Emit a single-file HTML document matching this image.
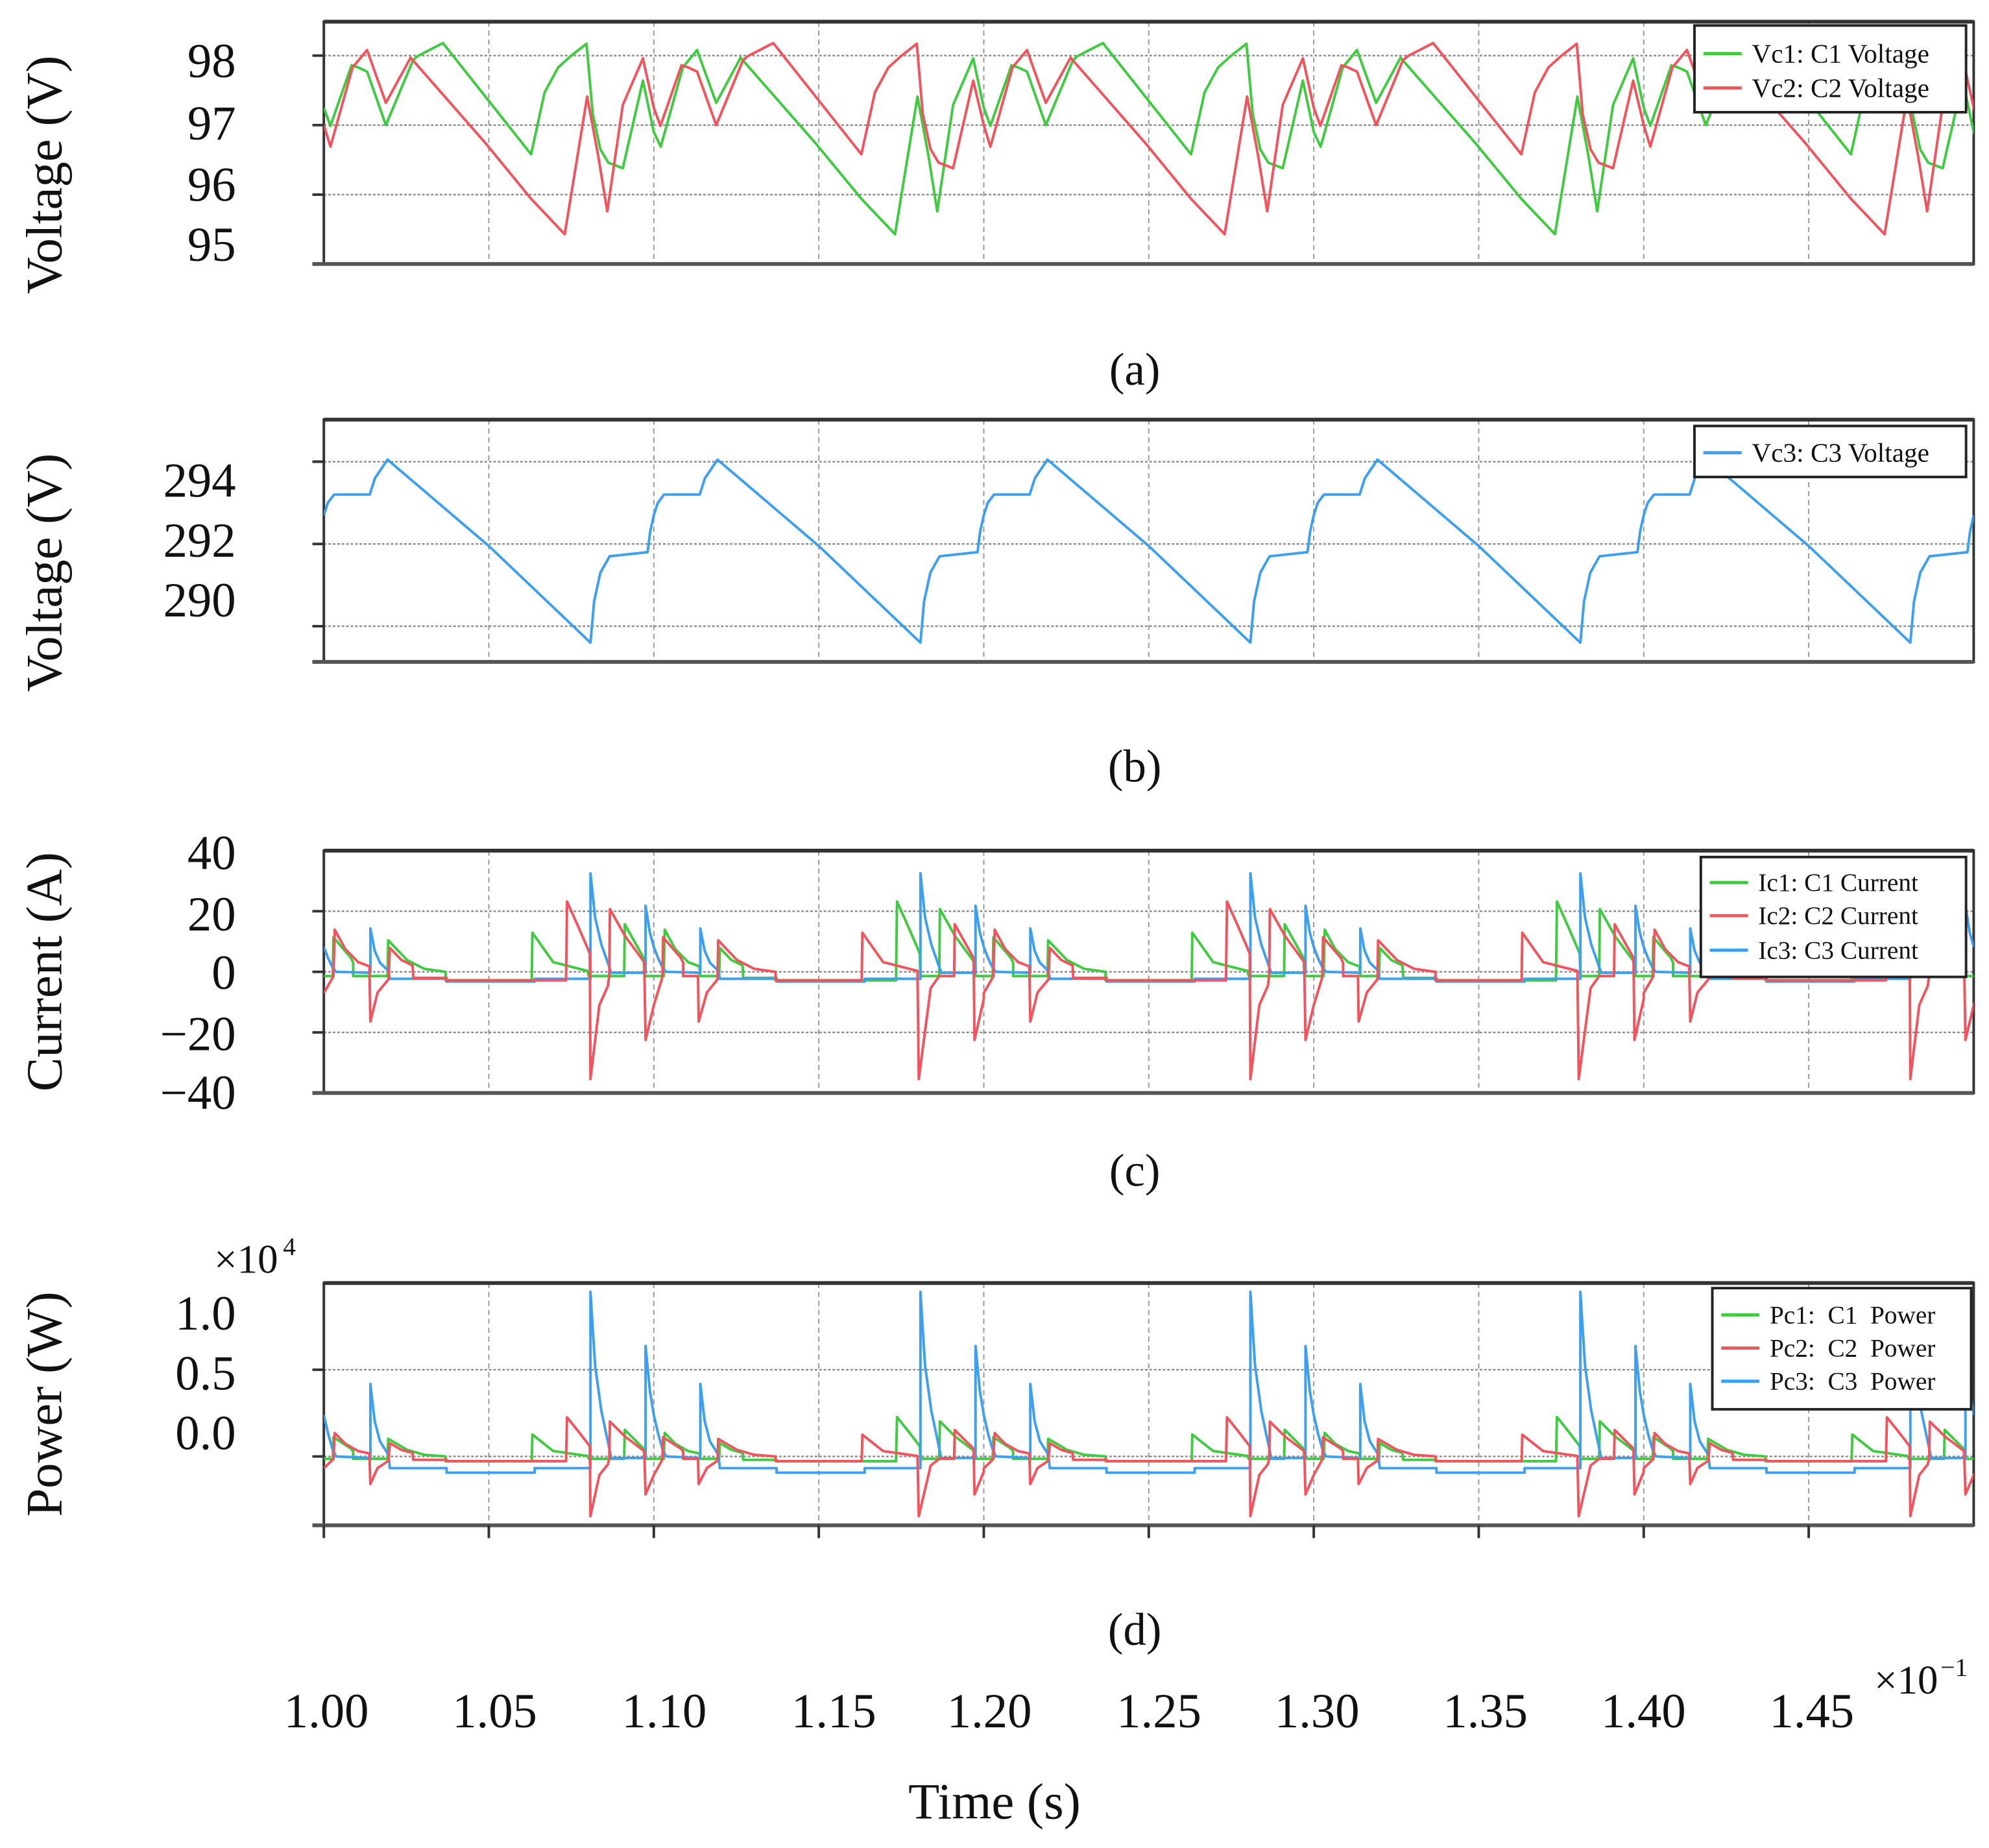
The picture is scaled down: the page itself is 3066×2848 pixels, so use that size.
<!DOCTYPE html>
<html><head><meta charset="utf-8"><style>
html,body{margin:0;padding:0;background:#fff;}
svg{display:block;}
text{font-family:"Liberation Serif",serif;fill:#111;}
</style></head><body>
<svg id="fig" width="3066" height="2848" viewBox="0 0 1560 1449" preserveAspectRatio="none" xmlns="http://www.w3.org/2000/svg">
<defs>
<clipPath id="clipA"><rect x="254" y="17" width="1294" height="190"/></clipPath>
<clipPath id="clipB"><rect x="254" y="329" width="1294" height="190"/></clipPath>
<clipPath id="clipC"><rect x="254" y="667" width="1294" height="190"/></clipPath>
<clipPath id="clipD"><rect x="254" y="1006" width="1294" height="190"/></clipPath>
</defs>
<g id="layer"></g>
</svg>
<script>
// ---- data (time offsets in ms within a cycle) ----
const timeTicks = [1.00,1.05,1.10,1.15,1.20,1.25,1.30,1.35,1.40,1.45];
const timeTickLabels = ["1.00","1.05","1.10","1.15","1.20","1.25","1.30","1.35","1.40","1.45"];
const cycleStarts20 = [100,120,140];
const cycleStarts10 = [100,110,120,130,140];

// (a) capacitor voltages, 20 ms cycle
const vc1T = [0,0.2,0.84,1.04,1.31,1.88,2.70,2.83,3.61,6.28,6.69,7.10,7.50,7.96,8.15,8.38,8.62,9.06,9.67,10.0,10.21,10.88,11.31,11.89,12.63,14.90,16.29,17.31,17.99,18.32,18.59,19.07,19.68,20];
const vc1V = [97.25,96.99,97.86,97.83,97.77,97.0,97.93,97.99,98.18,96.58,97.47,97.83,98.0,98.17,97.16,96.65,96.46,96.38,97.64,96.9,96.69,97.83,98.08,97.32,97.97,96.74,95.94,95.43,97.41,96.57,95.76,97.29,97.96,97.25];
const vc2T = [0,0.2,0.87,1.31,1.88,2.63,4.90,6.28,7.30,7.98,8.31,8.59,9.06,9.67,10.0,10.2,10.84,11.04,11.31,11.89,12.70,12.84,13.62,16.29,16.70,17.11,17.51,17.97,18.15,18.39,18.63,19.07,19.68,20];
const vc2V = [97.0,96.69,97.83,98.08,97.32,97.97,96.74,95.94,95.43,97.41,96.57,95.76,97.29,97.96,97.25,96.99,97.86,97.83,97.77,97.0,97.93,97.99,98.18,96.58,97.47,97.83,98.0,98.17,97.16,96.65,96.46,96.38,97.64,97.0];

// (b) C3 voltage, 10 ms cycle
const vc3T = [0,0.12,0.31,1.39,1.55,1.93,5.0,8.08,8.19,8.38,8.66,9.81,9.89,10];
const vc3V = [292.7,293.0,293.2,293.2,293.6,294.05,291.95,289.6,290.6,291.3,291.7,291.8,292.3,292.7];

// (c) currents
const ic1T = [0,0.27,0.29,0.82,0.89,0.89,1.93,1.95,2.52,3.04,3.69,3.69,6.3,6.32,6.95,7.99,8.03,9.1,9.12,9.69,9.72,10.0,10.3,10.33,10.65,11.04,11.38,11.41,11.98,12.0,12.35,12.69,12.71,13.72,13.72,17.34,17.37,17.69,17.95,18.06,18.08,18.65,18.67,19.13,19.71,19.75,20];
const ic1V = [-1.4,-1.4,11.4,4.6,3,-1.4,-1.4,10.4,3.9,1,0,-2.8,-2.8,12.9,3.2,0.3,-1.4,-1.4,15.7,4.6,-1.4,-1.4,-1.4,13.9,7.5,3.2,1.8,-1.4,-1.4,7.9,3.9,2.1,-2.0,-2.0,-2.8,-2.8,23.2,15.4,8.9,6,-1.4,-1.4,20.7,11.8,3.2,-1.4,-1.4];
const ic2T = [0,0.29,0.33,0.65,1.04,1.38,1.41,1.63,1.96,2.0,2.35,2.69,2.71,3.72,3.72,7.34,7.37,7.69,7.95,8.06,8.08,8.35,8.61,8.65,8.67,9.13,9.71,9.75,10.0,10.24,10.26,10.28,10.82,10.89,10.89,11.34,11.36,11.61,11.93,11.95,12.52,13.04,13.69,13.69,16.3,16.32,16.95,17.99,18.03,18.39,18.65,19.1,19.12,19.69,19.72,20];
const ic2V = [-7,-1.5,13.9,7.5,3.2,1.8,-16.4,-6.8,-2.5,7.9,3.9,2.1,-2.0,-2.0,-2.8,-2.8,23.2,15.4,8.9,6,-35.4,-11,-4.6,-1,20.7,11.8,3.2,-22.5,-11,-2.5,-1.5,11.4,4.6,3,-1.4,-1.4,-16.4,-6.8,-2.5,10.4,3.9,1,0,-2.8,-2.8,12.9,3.2,0.3,-35.4,-5.4,-1.4,-1.4,15.7,4.6,-22.5,-9];
const ic3T = [0,0.13,0.26,0.37,1.41,1.41,1.54,1.70,1.96,2.0,3.72,3.72,6.39,6.39,8.08,8.08,8.22,8.41,8.67,8.71,9.75,9.75,9.88,10];
const ic3V = [8.2,4.5,1.5,0,-0.3,14.3,7,3,0.3,-2.3,-2.3,-3.2,-3.2,-2.3,-2.3,32.5,18,9,1,-0.3,-0.3,21.8,13,8.2];

// (d) powers (W), same time bases as currents
const pc1V = [-137,-137,1117,451,294,-137,-137,1019,382,98,0,-274,-274,1264,314,29,-137,-137,1539,451,-137,-137,-137,1362,735,314,176,-137,-137,774,382,206,-196,-196,-274,-274,2274,1509,872,588,-137,-137,2029,1156,314,-137,-137];
const pc2V = [-680,-146,1350,730,310,175,-1590,-660,-243,768,380,204,-194,-194,-272,-272,2255,1500,865,583,-3440,-1070,-447,-97,2010,1147,310,-2190,-1070,-243,-146,1108,447,292,-136,-136,-1590,-660,-243,1010,380,97,0,-272,-272,1254,310,29,-3440,-525,-136,-136,1526,447,-2190,-875];
const pc3V = [2394,1314,438,0,-88,4176,2044,876,88,-672,-672,-934,-934,-672,-672,9490,5256,2628,292,-88,-88,6366,3796,2394];

const NS = "http://www.w3.org/2000/svg";
const layer = document.getElementById('layer');
function el(tag, attrs, parent){ const e=document.createElementNS(NS,tag); for(const k in attrs) e.setAttribute(k,attrs[k]); (parent||layer).appendChild(e); return e; }
function txt(s, attrs, parent){ const e=el('text',attrs,parent); e.textContent=s; return e; }

const X0=254, X1=1548;
function xOf(ms){ return X0 + (ms-100)/50*(X1-X0); }
function xOfTick(v){ return X0 + (v-1.00)/0.5*(X1-X0); }
function makeY(v0,y0,v1,y1){ return v => y0 + (v-v0)*(y1-y0)/(v1-v0); }

const GREEN="#3fcb3f", RED="#f2535c", BLUE="#3d9ff0";

function panel(name, top, clip, yf, yTicks, yLabels, yLabelPos, title){
  const g = el('g',{});
  
  
  const bottom = top+190;
  // vertical grid
  timeTicks.slice(1).forEach(t=>{
    const gl = el('line',{x1:xOfTick(t),x2:xOfTick(t),y1:top,y2:bottom,stroke:'#999','stroke-width':1,'stroke-dasharray':'4,3'},g);
    
    
  });
  // horizontal grid + ticks
  yTicks.forEach(v=>{
    const y=yf(v);
    const gl = el('line',{x1:X0,x2:X1,y1:y,y2:y,stroke:'#888','stroke-width':1.2,'stroke-dasharray':'2,1.5'},g);
    
    
    el('line',{x1:245,x2:X0,y1:y,y2:y,stroke:'#333','stroke-width':2},g);
  });
  yLabels.forEach((s,i)=>{
    const t = txt(s,{x:185,y:yLabelPos[i],'font-size':38,'text-anchor':'end','dominant-baseline':'central'},g);
    
    
  });
  const yt = txt(title,{x:0,y:0,'font-size':40,'text-anchor':'middle','dominant-baseline':'central',transform:`translate(35,${top+95+(title==='Voltage (V)'?25:0)}) rotate(-90)`},g);
  
  
  // frame
  el('rect',{x:X0,y:top,width:X1-X0,height:190,fill:'none',stroke:'#333','stroke-width':2},g);
  el('line',{x1:245,x2:X1,y1:bottom,y2:bottom,stroke:'#555','stroke-width':3},g);
  el('line',{x1:X0,x2:X1,y1:top,y2:top,stroke:'#333','stroke-width':3},g);
  return g;
}

function series(g, clip, yf, T, V, starts, period, color, name){
  let d='';
  starts.forEach(s=>{
    T.forEach((t,i)=>{ d += (i===0 && d==='' ? 'M':'L') + xOf(s+t).toFixed(2)+','+yf(V[i]).toFixed(2)+' '; });
  });
  const p = el('path',{d:d,fill:'none',stroke:color,'stroke-width':2,'stroke-linejoin':'round','clip-path':`url(#${clip})`},g);
  
  
}

function legend(g, x, y, w, h, entries, rowY, lineX, fs){
  const lg = el('g',{},g);
  
  
  el('rect',{x:x,y:y,width:w,height:h,fill:'#fff',stroke:'#222','stroke-width':2},lg);
  entries.forEach((e,i)=>{
    const le = el('g',{},lg);
    
    
    el('line',{x1:lineX,x2:lineX+30,y1:rowY[i],y2:rowY[i],stroke:e[1],'stroke-width':2.5},le);
    txt(e[0],{x:lineX+38,y:rowY[i],'font-size':fs,'dominant-baseline':'central',style:'white-space:pre'},le);
  });
}

// Panel (a)
const yA = makeY(98,43.6,97,98.1);
const gA = panel('panel-a-capacitor-voltages',17,'clipA',yA,[98,97,96],["98","97","96","95"],[48,97,145,192],'Voltage (V)');
series(gA,'clipA',yA,vc1T,vc1V,cycleStarts20,20,GREEN,'vc1-line');
series(gA,'clipA',yA,vc2T,vc2V,cycleStarts20,20,RED,'vc2-line');
legend(gA,1329,20,213,68,[["Vc1: C1 Voltage",GREEN],["Vc2: C2 Voltage",RED]],[42,69],1336,21);

// Panel (b)
const yB = makeY(294,362,290,491);
const gB = panel('panel-b-c3-voltage',329,'clipB',yB,[294,292,290],["294","292","290"],[377,424,471],'Voltage (V)');
series(gB,'clipB',yB,vc3T,vc3V,cycleStarts10,10,BLUE,'vc3-line');
legend(gB,1329,334,213,40,[["Vc3: C3 Voltage",BLUE]],[355],1336,21);

// Panel (c)
const yC = makeY(0,762,40,667);
const gC = panel('panel-c-capacitor-currents',667,'clipC',yC,[20,0,-20],["40","20","0","\u221220","\u221240"],[669,717,763,811,857],'Current (A)');
series(gC,'clipC',yC,ic1T,ic1V,cycleStarts20,20,GREEN,'ic1-line');
series(gC,'clipC',yC,ic3T,ic3V,cycleStarts10,10,BLUE,'ic3-line');
series(gC,'clipC',yC,ic2T,ic2V,cycleStarts20,20,RED,'ic2-line');
legend(gC,1334,672,208,94,[["Ic1: C1 Current",GREEN],["Ic2: C2 Current",RED],["Ic3: C3 Current",BLUE]],[692,718,745],1341,20);

// Panel (d)
const yD = makeY(0,1142,5000,1074);
const gD = panel('panel-d-capacitor-powers',1006,'clipD',yD,[5000,0],["1.0","0.5","0.0"],[1030,1077,1124],'Power (W)');
series(gD,'clipD',yD,ic1T,pc1V,cycleStarts20,20,GREEN,'pc1-line');
series(gD,'clipD',yD,ic3T,pc3V,cycleStarts10,10,BLUE,'pc3-line');
series(gD,'clipD',yD,ic2T,pc2V,cycleStarts20,20,RED,'pc2-line');
legend(gD,1343,1010,203,95,[["Pc1:  C1  Power",GREEN],["Pc2:  C2  Power",RED],["Pc3:  C3  Power",BLUE]],[1031,1057,1083],1350,20);
const ex = txt('\u00d710',{x:168,y:998,'font-size':32},gD);


txt('4',{x:222,y:984,'font-size':20},gD);
// bottom ticks
timeTicks.forEach(t=>{ el('line',{x1:xOfTick(t),x2:xOfTick(t),y1:1196,y2:1206,stroke:'#333','stroke-width':2},gD); });

// Captions
[["(a)",290],["(b)",601],["(c)",918],["(d)",1278]].forEach(c=>{
  const t = txt(c[0],{x:890,y:c[1],'font-size':36,'text-anchor':'middle','dominant-baseline':'central'});
  
  
});

// X tick labels
const labelX=[256,388,521,654,776,909,1033,1165,1289,1421];
timeTickLabels.forEach((s,i)=>{
  const t = txt(s,{x:labelX[i],y:1342,'font-size':38,'text-anchor':'middle','dominant-baseline':'central'});
  
  
});
const xe = txt('\u00d710',{x:1470,y:1328,'font-size':32});


txt('\u22121',{x:1522,y:1314,'font-size':20});
const xt = txt('Time (s)',{x:780,y:1413,'font-size':40,'text-anchor':'middle','dominant-baseline':'central'});


</script>
</body></html>
